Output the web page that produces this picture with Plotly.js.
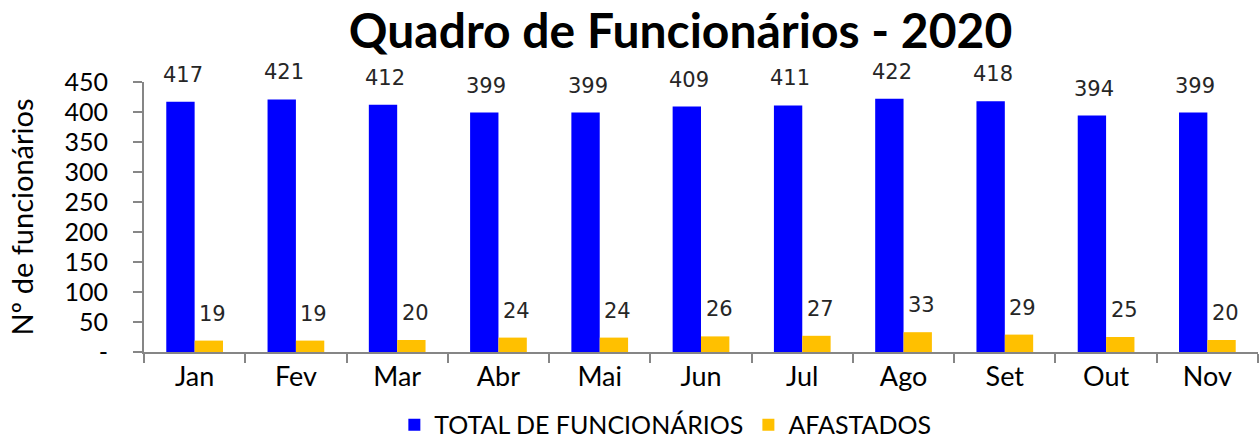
<!DOCTYPE html>
<html>
<head>
<meta charset="utf-8">
<script src="https://cdn.plot.ly/plotly-3.0.1.min.js"></script>
<style>html,body{margin:0;padding:0;background:#fff;}#chart{width:1259px;height:443px;}</style>
</head>
<body>
<div id="chart"></div>
<script>
const months = ["Jan","Fev","Mar","Abr","Mai","Jun","Jul","Ago","Set","Out","Nov"];
const totalFuncionarios = [417,421,412,399,399,409,411,422,418,394,399];
const afastados = [19,19,20,24,24,26,27,33,29,25,20];
const yTickVals = [0,50,100,150,200,250,300,350,400,450];
const yTickText = ["-","50","100","150","200","250","300","350","400","450"];

const labelFont = {family:"DejaVu Sans", size:21, color:"#262626"};
const annotations = [];
months.forEach((m,i)=>{
  annotations.push({x:m, y:totalFuncionarios[i], xref:"x", yref:"y", text:String(totalFuncionarios[i]),
    showarrow:false, yanchor:"middle", yshift:27, xshift:-12, font:labelFont});
  annotations.push({x:m, y:afastados[i], xref:"x", yref:"y", text:String(afastados[i]),
    showarrow:false, yanchor:"middle", yshift:27, xshift:18, font:labelFont});
});

const data = [
  {type:"bar", name:"TOTAL DE FUNCIONÁRIOS", x:months, y:totalFuncionarios, marker:{color:"#0000FF"}},
  {type:"bar", name:"AFASTADOS", x:months, y:afastados, marker:{color:"#FFC000"}}
];

const layout = {
  width:1259, height:443,
  margin:{l:144, r:1, t:82, b:91, autoexpand:false},
  paper_bgcolor:"#fff", plot_bgcolor:"#fff",
  barmode:"group", bargap:0.44, bargroupgap:0,
  title:{text:"<b>Quadro de Funcionários - 2020</b>", font:{family:"Lato", size:48, color:"#000"},
    x:0.4816, xanchor:"center", y:0.93, yanchor:"middle", xref:"paper"},
  xaxis:{tickfont:{family:"Lato", size:27, color:"#000"}, showline:true, linecolor:"#868686", linewidth:2,
    ticks:"outside", tickson:"boundaries", ticklen:9, tickcolor:"#868686", tickwidth:2, showgrid:false, zeroline:false,
    ticklabelstandoff:0},
  yaxis:{range:[0,450], tickvals:yTickVals, ticktext:yTickText, tickfont:{family:"Lato", size:25, color:"#000"},
    showline:true, linecolor:"#868686", linewidth:2, ticks:"outside", ticklen:9, tickcolor:"#868686", tickwidth:2,
    showgrid:false, zeroline:false, ticklabelstandoff:20,
    title:{text:"Nº de funcionários", font:{family:"Lato", size:29, color:"#000"}, standoff:22}},
  legend:{orientation:"h", x:0.468, xanchor:"center", y:-0.27, yanchor:"middle",
    font:{family:"Lato", size:25, color:"#000"}, itemwidth:30, traceorder:"normal"},
  annotations:annotations,
  showlegend:true
};
Plotly.newPlot("chart", data, layout, {displayModeBar:false, responsive:false});
</script>
</body>
</html>
